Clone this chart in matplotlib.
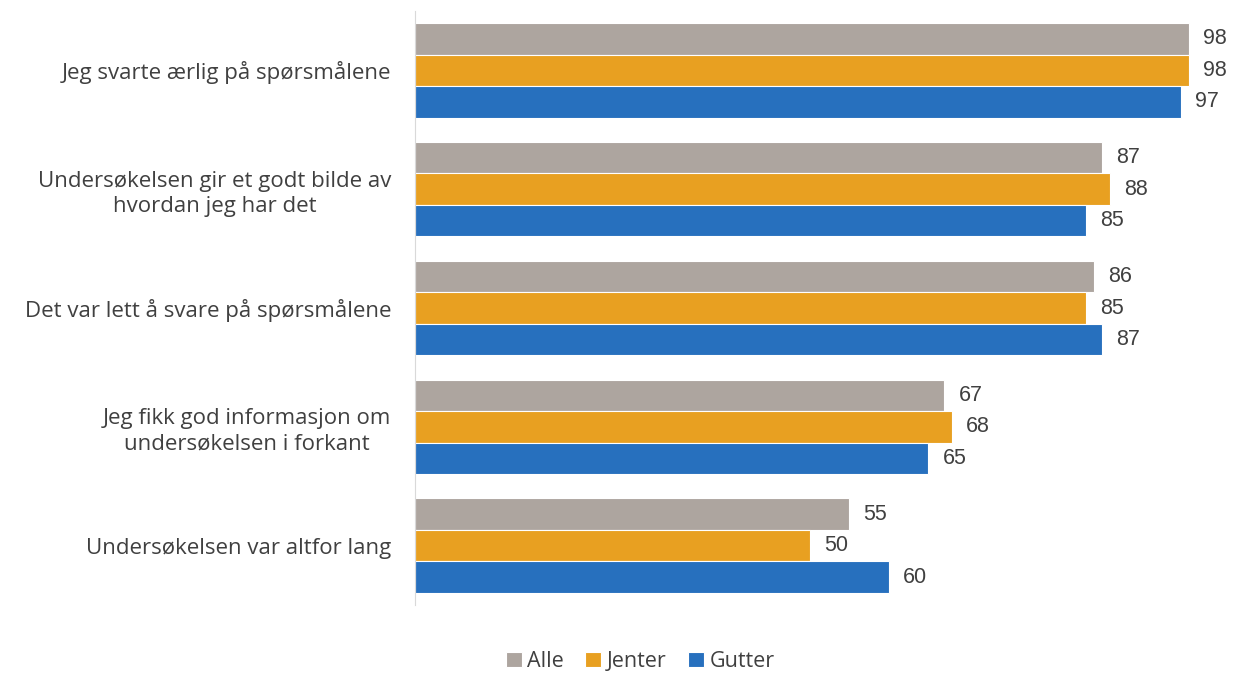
import matplotlib.pyplot as plt
import numpy as np

categories = [
    'Jeg svarte ærlig på spørsmålene',
    'Undersøkelsen gir et godt bilde av\nhvordan jeg har det',
    'Det var lett å svare på spørsmålene',
    'Jeg fikk god informasjon om\nundersøkelsen i forkant',
    'Undersøkelsen var altfor lang',
]
series = ['Alle', 'Jenter', 'Gutter']
alle = [98, 87, 86, 67, 55]
jenter = [98, 88, 85, 68, 50]
gutter = [97, 85, 87, 65, 60]
colors = ['#ADA59F', '#E8A021', '#2770BE']

fig = plt.figure(figsize=(12.36, 6.73), dpi=100)
ax = fig.add_axes([0.3358, 0.101, 0.639, 0.8826])

y = np.arange(len(categories))
h = 0.265
for i, (vals, c, name) in enumerate(zip([alle, jenter, gutter], colors, series)):
    pos = y + (i - 1) * h
    ax.barh(pos, vals, height=h, color=c, edgecolor='white', linewidth=0.8, label=name)
    for p, v in zip(pos, vals):
        ax.text(v + 1.8, p, str(v), va='center', ha='left', fontsize=15.5,
                color='#404040', family='Liberation Sans', clip_on=False)

ax.set_xlim(0, 100)
ax.set_ylim(len(categories) - 0.5, -0.5)
ax.set_xticks([])
ax.set_yticks(y)
ax.set_yticklabels(categories, fontsize=16, color='#404040', family='Open Sans',
                   multialignment='center', linespacing=1.25)
ax.tick_params(axis='y', length=0, pad=17)
for s in ['top', 'right', 'bottom']:
    ax.spines[s].set_visible(False)
ax.spines['left'].set_color('#D9D9D9')

ax.legend(loc='center', bbox_to_anchor=(0.285, -0.095), ncol=3, frameon=False,
          handlelength=0.75, handleheight=0.75, handletextpad=0.25, columnspacing=1.0,
          prop={'family': 'Open Sans', 'size': 15.5}, labelcolor='#404040')

fig.savefig('out.png', dpi=100)
